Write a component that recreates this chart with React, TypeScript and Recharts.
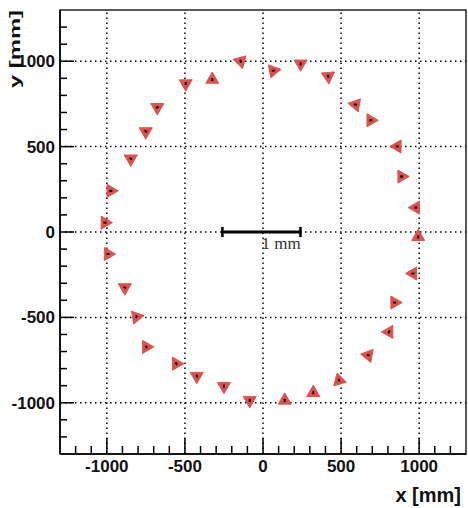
import React from "react";
import {
  ScatterChart,
  Scatter,
  XAxis,
  YAxis,
  ReferenceLine,
  ReferenceArea,
} from "recharts";

// hit positions (mm), plus marker orientation (deg, 0 = pointing up)
const X_VALUES = [
  -143, 66, 241, 418, -325, -495, 593, 690, 860, 888, 978, 994, 960, 843, 807,
  674, 487, 322, 139, -85, -250, -424, -555, -747, -811, -885, -992, -1012,
  -975, -847, -751, -677,
];
const Y_VALUES = [
  1000, 945, 985, 912, 893, 869, 746, 654, 501, 325, 143, -28, -243, -413,
  -585, -722, -869, -941, -986, -986, -903, -844, -771, -673, -497, -325, -129,
  55, 241, 429, 589, 730,
];
const ANGLES = [
  165, 80, 180, 175, 0, 180, 280, 90, 270, 90, 270, 0, 270, 90, 30, 280, 345,
  0, 0, 180, 180, 180, 330, 330, 200, 300, 90, 90, 90, 300, 300, 60,
];

const X_TICKS = [
  -1200, -1100, -1000, -900, -800, -700, -600, -500, -400, -300, -200, -100, 0,
  100, 200, 300, 400, 500, 600, 700, 800, 900, 1000, 1100, 1200,
];
const Y_TICKS = X_TICKS;
const GRID = [-1000, -500, 0, 500, 1000];
const DOMAIN = [-1300, 1300];

// "1 mm" scale bar
const BAR_X = [-260, 240];
const BAR_Y = 0;
const BAR_CAP = 30;

const points = X_VALUES.map((x, i) => ({ x, y: Y_VALUES[i], angle: ANGLES[i] }));

const FONT = "'Liberation Sans', Arial, Helvetica, sans-serif";
const RED = "#d9534f";

const XTick = (props: any) => {
  const { x, y, payload } = props;
  const major = payload.value % 500 === 0;
  return (
    <g>
      <line x1={x} x2={x} y1={y} y2={y - (major ? 16 : 8)} stroke="#000" strokeWidth={1.5} />
      {major && (
        <text x={x} y={y + 18} textAnchor="middle" fontFamily={FONT} fontWeight="bold" fontSize={17} fill="#111">
          {payload.value}
        </text>
      )}
    </g>
  );
};

const YTick = (props: any) => {
  const { x, y, payload } = props;
  const major = payload.value % 500 === 0;
  return (
    <g>
      <line x1={x} x2={x + (major ? 14 : 7)} y1={y} y2={y} stroke="#000" strokeWidth={1.5} />
      {major && (
        <text x={x - 5} y={y + 6} textAnchor="end" fontFamily={FONT} fontWeight="bold" fontSize={17} fill="#111">
          {payload.value}
        </text>
      )}
    </g>
  );
};

const Triangle = (props: any) => {
  const { cx, cy, payload } = props;
  if (cx == null || cy == null) return null;
  const r = 7.5;
  const pts = [0, 120, 240]
    .map((a) => {
      const t = (a * Math.PI) / 180;
      return `${r * Math.sin(t)},${-r * Math.cos(t)}`;
    })
    .join(" ");
  return (
    <g transform={`translate(${cx},${cy}) rotate(${payload.angle})`}>
      <polygon points={pts} fill={RED} stroke={RED} strokeWidth={1} strokeLinejoin="round" />
      <rect x={-1} y={-1.5} width={2} height={3} fill="#000" />
    </g>
  );
};

const XLabel = (props: any) => {
  const vb = props.viewBox;
  return (
    <text x={vb.x + vb.width - 5} y={vb.y + 48} textAnchor="end" fontFamily={FONT} fontWeight="bold" fontSize={20} fill="#111">
      x [mm]
    </text>
  );
};

const YLabel = (props: any) => {
  const vb = props.viewBox;
  const x = vb.x + 20;
  const y = vb.y;
  return (
    <text
      x={x}
      y={y}
      transform={`rotate(-90 ${x} ${y})`}
      textAnchor="end"
      fontFamily={FONT}
      fontWeight="bold"
      fontSize={15}
      textLength={78}
      lengthAdjust="spacingAndGlyphs"
      fill="#111"
    >
      y [mm]
    </text>
  );
};

const BarLabel = (props: any) => {
  const vb = props.viewBox;
  return (
    <text x={vb.x + vb.width / 2} y={vb.y + 17} fontFamily="'Liberation Serif', 'Times New Roman', serif" fontSize={17} fill="#333">
      1 mm
    </text>
  );
};

export default function App() {
  return (
    <div style={{ width: 468, height: 508, background: "#fff" }}>
      <style>{`body{margin:0}`}</style>
      <ScatterChart width={468} height={508} margin={{ top: 10, right: 2, bottom: 0, left: 0 }}>
        <XAxis
          type="number"
          dataKey="x"
          domain={DOMAIN}
          ticks={X_TICKS}
          interval={0}
          height={54}
          tickSize={0}
          tickMargin={0}
          tickLine={false}
          tick={<XTick />}
          axisLine={{ stroke: "#000", strokeWidth: 1.5 }}
          label={<XLabel />}
          allowDataOverflow
        />
        <YAxis
          type="number"
          dataKey="y"
          domain={DOMAIN}
          ticks={Y_TICKS}
          interval={0}
          width={60}
          tickSize={0}
          tickMargin={0}
          tickLine={false}
          tick={<YTick />}
          axisLine={{ stroke: "#000", strokeWidth: 1.5 }}
          label={<YLabel />}
          allowDataOverflow
        />
        {GRID.map((v) => (
          <ReferenceLine key={`gx${v}`} x={v} stroke="#000" strokeWidth={1.5} strokeDasharray="1.5 3.5" />
        ))}
        {GRID.map((v) => (
          <ReferenceLine key={`gy${v}`} y={v} stroke="#000" strokeWidth={1.5} strokeDasharray="1.5 3.5" />
        ))}
        <ReferenceArea
          x1={DOMAIN[0]}
          x2={DOMAIN[1]}
          y1={DOMAIN[0]}
          y2={DOMAIN[1]}
          fill="none"
          stroke="#222"
          strokeWidth={1.5}
        />
        <ReferenceLine
          segment={[
            { x: BAR_X[0], y: BAR_Y },
            { x: BAR_X[1], y: BAR_Y },
          ]}
          stroke="#000"
          strokeWidth={3}
          label={<BarLabel />}
        />
        {BAR_X.map((bx) => (
          <ReferenceLine
            key={`cap${bx}`}
            segment={[
              { x: bx, y: BAR_Y - BAR_CAP },
              { x: bx, y: BAR_Y + BAR_CAP },
            ]}
            stroke="#000"
            strokeWidth={2.5}
          />
        ))}
        <Scatter data={points} shape={<Triangle />} isAnimationActive={false} />
      </ScatterChart>
    </div>
  );
}
